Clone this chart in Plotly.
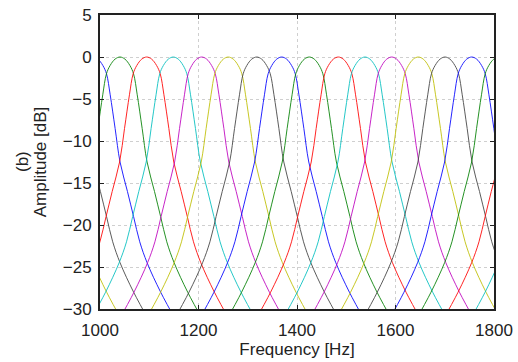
import plotly.graph_objects as go

# Centre frequencies of the filters (Hz)
centres = [876.0, 930.8, 985.7, 1040.6, 1094.8, 1148.8, 1206.5, 1260.5, 1318.2,
           1368.9, 1425.0, 1483.9, 1538.0, 1592.3, 1646.3, 1700.5, 1754.7,
           1809.6, 1864.5, 1919.4]
# Filter response profile (offset from centre in Hz -> amplitude in dB)
offsets = [-170, -137.5, -110, -95, -82.5, -70, -55, -45, -35, -27.5, -20, -10, 0,
           10, 20, 27.5, 35, 45, 55, 70, 82.5, 95, 110, 137.5, 170]
profile_db = [-31.5, -28, -24.5, -22, -19, -16, -12.5, -8.5, -4.5, -2, -1, -0.25, 0,
              -0.25, -1, -2, -4.5, -8.5, -12.5, -16, -19, -22, -24.5, -28, -31.5]
colors = ["#bfbf00", "#404040", "#0000ff", "#008000", "#ff0000", "#00bfbf", "#bf00bf"]
x_ticks = [1000, 1200, 1400, 1600, 1800]
y_ticks = [-30, -25, -20, -15, -10, -5, 0, 5]

fig = go.Figure()
for i, c in enumerate(centres):
    fig.add_trace(go.Scatter(
        x=[c + o for o in offsets], y=profile_db, mode="lines",
        line=dict(color=colors[i % len(colors)], width=1, shape="spline"),
        opacity=0.85, hoverinfo="skip", showlegend=False))

font = dict(family="Liberation Sans, Arial, sans-serif", size=17, color="#222")
axis_common = dict(showline=True, linecolor="#222", linewidth=2, mirror="ticks",
                   ticks="inside", ticklen=4, tickcolor="#222", zeroline=False,
                   showgrid=True, gridcolor="#cfcfcf", griddash="dot", gridwidth=1,
                   tickfont=font, automargin=False, ticklabeloverflow="allow")
fig.update_layout(
    width=518, height=362, margin=dict(l=100, r=24, t=15, b=53),
    paper_bgcolor="white", plot_bgcolor="white", font=font,
    xaxis=dict(range=[1000, 1800], tickvals=x_ticks, ticklabelstandoff=5,
               title=dict(text="Frequency [Hz]", font=font, standoff=2), **axis_common),
    yaxis=dict(range=[-30, 5], tickvals=y_ticks, ticklabelstandoff=3,
               title=dict(text="Amplitude [dB]", font=font, standoff=12), **axis_common),
    annotations=[dict(text="(b)", xref="paper", yref="paper", x=0, y=0.5,
                      xanchor="center", yanchor="middle", xshift=-78, textangle=-90,
                      showarrow=False, font=font)],
)
fig.write_html("out.html", config={"displayModeBar": False},
               post_script="document.body.style.margin='0';document.body.style.overflow='hidden';")
